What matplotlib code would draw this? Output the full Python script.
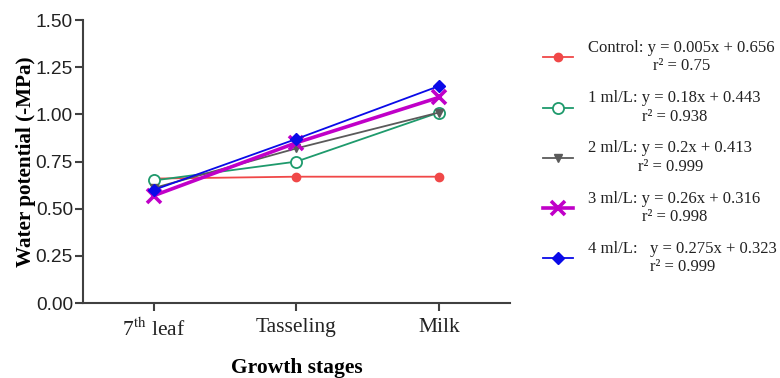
import matplotlib
matplotlib.use('Agg')
import matplotlib.pyplot as plt

plt.rc('mathtext', fontset='stix')

# Datos
etapas = ['7$^{\\mathrm{th}}$ leaf', 'Tasseling', 'Milk']
control = [0.66, 0.67, 0.67]
ml_1 = [0.65, 0.75, 1.01]
ml_2 = [0.61, 0.82, 1.01]
ml_3 = [0.57, 0.85, 1.09]
ml_4 = [0.60, 0.87, 1.15]

etiquetas = ['Control: y = 0.005x + 0.656\nr² = 0.75',
             '1 ml/L: y = 0.18x + 0.443\nr² = 0.938',
             '2 ml/L: y = 0.2x + 0.413\nr² = 0.999',
             '3 ml/L: y = 0.26x + 0.316\nr² = 0.998',
             '4 ml/L:   y = 0.275x + 0.323\nr² = 0.999']

yticks = [0.00, 0.25, 0.50, 0.75, 1.00, 1.25, 1.50]

fig = plt.figure(figsize=(7.8, 3.78), dpi=100)
ax = fig.add_axes([0.106, 0.198, 0.548, 0.749])

x = range(len(etapas))
ax.plot(x, control, color='#f04848', lw=1.3, marker='o', ms=6, label=etiquetas[0])
ax.plot(x, ml_1, color='#1e9a6c', lw=1.3, marker='o', ms=8, mfc='white', mew=1.3, label=etiquetas[1])
ax.plot(x, ml_2, color='#5a5a5a', lw=1.3, marker='v', ms=6, label=etiquetas[2])
ax.plot(x, ml_3, color='#c000c8', lw=2.6, marker='x', ms=10, mew=2.6, label=etiquetas[3])
ax.plot(x, ml_4, color='#0a0ae8', lw=1.3, marker='D', ms=6, label=etiquetas[4])

ax.set_xlim(-0.5, 2.5)
ax.set_ylim(0, 1.5)
ax.set_yticks(yticks)
ax.set_yticklabels(['%.2f' % v for v in yticks], family='Liberation Sans', fontsize=13.8, color='#222222')
ax.set_xticks(list(x))
ax.set_xticklabels(etapas, family='Liberation Serif', fontsize=15.5, color='#222222')

for s in ['top', 'right']:
    ax.spines[s].set_visible(False)
for s in ['left', 'bottom']:
    ax.spines[s].set_linewidth(1.5)
    ax.spines[s].set_color('#404040')
ax.tick_params(direction='out', length=6, width=1.5, color='#404040')
ax.tick_params(axis='x', pad=5)
ax.tick_params(axis='y', pad=1)

ax.set_ylabel('Water potential (-MPa)', family='Liberation Serif', fontweight='bold', fontsize=15.2, labelpad=0)
ax.set_xlabel('Growth stages', family='Liberation Serif', fontweight='bold', fontsize=15.5, labelpad=12)

leg = ax.legend(loc='upper left', bbox_to_anchor=(0.688, 0.912), bbox_transform=fig.transFigure,
                frameon=False, prop={'family': 'Liberation Serif', 'size': 12},
                handlelength=1.8, handletextpad=0.9, labelspacing=0.95, borderaxespad=0)
for t in leg.get_texts():
    t.set_multialignment('center')
    t.set_color('#222222')

fig.savefig('out.png', dpi=100)
